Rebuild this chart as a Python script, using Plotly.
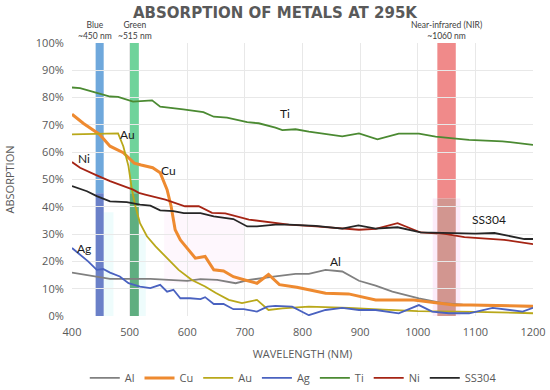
import plotly.graph_objects as go

# ---------------- data ----------------
series_names = ["Al", "Cu", "Au", "Ag", "Ti", "Ni", "SS304"]

al_x = [400, 443, 466, 536, 565, 600, 623, 652, 684, 707, 753, 788, 811, 840, 869, 898, 927, 956, 1002, 1043, 1078, 1113, 1159, 1200]
al_y = [15.9, 14.5, 13.6, 13.6, 13.2, 12.9, 13.5, 13.2, 12.0, 13.2, 14.5, 15.4, 15.4, 16.9, 16.3, 12.9, 11.1, 8.9, 6.5, 4.7, 4.2, 4.0, 3.5, 3.4]

cu_x = [400, 420, 448, 466, 489, 508, 520, 540, 553, 565, 572, 579, 588, 602, 614, 631, 646, 663, 680, 700, 721, 741, 760, 790, 811, 840, 880, 904, 927, 993, 1063, 1092, 1200]
cu_y = [73.9, 70.5, 66.5, 62.2, 59.8, 56.0, 55.3, 54.3, 52.5, 46.3, 40.2, 31.6, 27.9, 24.3, 21.2, 21.8, 16.9, 16.5, 14.4, 13.2, 12.0, 15.2, 11.5, 10.5, 9.6, 8.3, 8.1, 7.1, 5.9, 5.9, 4.0, 4.0, 3.6]

au_x = [400, 440, 480, 489, 498, 504, 510, 518, 530, 545, 562, 585, 608, 631, 649, 672, 695, 721, 741, 765, 811, 880, 940, 1000, 1100, 1200]
au_y = [66.5, 66.7, 66.9, 62.2, 54.9, 46.3, 40.2, 34.0, 29.2, 25.5, 21.8, 16.9, 13.2, 10.8, 8.5, 5.9, 4.7, 5.9, 2.2, 2.8, 3.4, 3.0, 2.3, 1.8, 1.5, 1.0]

ag_x = [400, 414, 428, 443, 454, 466, 483, 498, 518, 536, 553, 565, 576, 588, 605, 623, 631, 646, 663, 680, 698, 721, 739, 753, 782, 811, 840, 869, 898, 927, 967, 1002, 1025, 1054, 1089, 1130, 1182, 1200]
ag_y = [24.9, 22.4, 20.0, 16.9, 17.2, 15.9, 14.5, 12.0, 10.8, 10.2, 11.4, 8.9, 9.6, 6.5, 6.5, 6.2, 6.9, 4.4, 4.4, 2.5, 2.5, 1.6, 3.4, 3.7, 3.4, 0.3, 2.2, 3.0, 2.2, 2.2, 1.0, 4.0, 1.6, 1.0, 1.0, 3.0, 1.6, 3.0]

ti_x = [400, 414, 440, 466, 480, 506, 539, 553, 593, 628, 646, 669, 704, 724, 753, 765, 788, 811, 869, 898, 930, 967, 1002, 1031, 1066, 1089, 1147, 1200]
ti_y = [83.7, 83.5, 81.9, 80.4, 80.3, 78.5, 79.0, 76.7, 75.7, 74.7, 73.0, 72.7, 71.0, 70.6, 69.0, 68.1, 68.4, 67.5, 65.8, 66.9, 64.7, 66.8, 66.8, 65.7, 65.0, 64.5, 64.0, 62.7]

ni_x = [400, 414, 440, 466, 506, 516, 527, 562, 596, 620, 643, 666, 707, 776, 823, 869, 898, 927, 965, 1005, 1050, 1081, 1150, 1200]
ni_y = [56.4, 54.3, 51.8, 49.4, 46.3, 45.1, 44.5, 42.6, 40.2, 40.2, 37.8, 37.6, 35.3, 33.5, 32.8, 31.9, 31.6, 31.9, 34.0, 30.6, 30.0, 28.9, 27.9, 26.3]

ss_x = [400, 426, 443, 466, 495, 518, 536, 553, 576, 594, 623, 646, 680, 704, 721, 753, 776, 823, 869, 897, 927, 965, 1005, 1050, 1100, 1133, 1185, 1200]
ss_y = [47.6, 45.7, 43.9, 42.0, 41.7, 40.8, 40.4, 38.7, 38.4, 37.7, 37.7, 36.5, 35.5, 32.8, 32.8, 33.5, 33.5, 33.0, 32.0, 33.2, 32.0, 32.5, 30.6, 30.3, 30.2, 30.4, 28.2, 28.2]

# highlighted wavelength bands: (label, start nm, end nm)
band_labels = ["Blue<br>~450 nm", "Green<br>~515 nm", "Near-infrared (NIR)<br>~1060 nm"]
band_label_x = [440, 510, 1050]
band_start = [441, 500, 1034]
band_end = [455, 516, 1066]

# in-chart series labels
label_text = ["Ti", "Au", "Cu", "Ni", "Ag", "Al", "SS304"]
label_x = [769, 497, 567, 420, 421, 857, 1124]
label_y = [74.2, 66.5, 53.4, 57.6, 24.9, 20.0, 35.3]

x_ticks = [400, 500, 600, 700, 800, 900, 1000, 1100, 1200]
y_ticks = [0, 10, 20, 30, 40, 50, 60, 70, 80, 90, 100]
y_tick_text = ["0%", "10%", "20%", "30%", "40%", "50%", "60%", "70%", "80%", "90%", "100%"]

# ---------------- styles ----------------
colors = {"Al": "#808080", "Cu": "#ee8a30", "Au": "#b9a81a", "Ag": "#4a62c0",
          "Ti": "#4b8a32", "Ni": "#a52414", "SS304": "#262626"}
widths = {"Al": 1.8, "Cu": 3.0, "Au": 1.8, "Ag": 1.8, "Ti": 1.8, "Ni": 1.8, "SS304": 1.8}
data = {"Al": (al_x, al_y), "Cu": (cu_x, cu_y), "Au": (au_x, au_y), "Ag": (ag_x, ag_y),
        "Ti": (ti_x, ti_y), "Ni": (ni_x, ni_y), "SS304": (ss_x, ss_y)}

fig = go.Figure()

for name in series_names:
    xs, ys = data[name]
    fig.add_trace(go.Scatter(x=xs, y=ys, mode="lines", name=name,
                             line=dict(color=colors[name], width=widths[name])))

# faint highlight artefacts
fig.add_shape(type="rect", x0=455, x1=472, y0=0, y1=38, fillcolor="#eefcfc", line_width=0, layer="below")
fig.add_shape(type="rect", x0=516, x1=528, y0=0, y1=30, fillcolor="#eefcfc", line_width=0, layer="below")
fig.add_shape(type="rect", x0=1026, x1=1074, y0=0, y1=43, fillcolor="#fcecf9", line_width=0, layer="below")
fig.add_shape(type="rect", x0=560, x1=700, y0=12, y1=38, fillcolor="#fef7fd", line_width=0, layer="below")

# bands (upper and lower tones as in the reference)
band_upper = ["#6fa8dc", "#6fd39b", "#f08a8a"]
band_lower = ["#6a80c8", "#5fae80", "#d29690"]
band_split = [45, 45, 43]
for i in range(3):
    fig.add_shape(type="rect", xref="x", yref="y", x0=band_start[i], x1=band_end[i],
                  y0=band_split[i], y1=100, fillcolor=band_upper[i], line_width=0,
                  layer="below")
    fig.add_shape(type="rect", xref="x", yref="y", x0=band_start[i], x1=band_end[i],
                  y0=0, y1=band_split[i], fillcolor=band_lower[i], line_width=0,
                  layer="below")
    fig.add_annotation(x=band_label_x[i], y=1.0, xref="x", yref="paper",
                       yanchor="bottom", text=band_labels[i], showarrow=False,
                       font=dict(family="Lato, Open Sans, sans-serif", size=8.5, color="#404040"),
                       yshift=0)

for t, lx, ly in zip(label_text, label_x, label_y):
    fig.add_annotation(x=lx, y=ly, text=t, showarrow=False,
                       font=dict(family="Lato, Open Sans, sans-serif", size=12, color="#1a1a1a"))

fig.update_layout(
    width=550, height=390,
    margin=dict(l=72, r=17, t=43, b=74, autoexpand=False),
    paper_bgcolor="white", plot_bgcolor="white",
    title=dict(text="<b>ABSORPTION OF METALS AT 295K</b>", x=0.5, xanchor="center",
               y=0.968, yanchor="middle",
               font=dict(family="DejaVu Sans, Verdana, sans-serif", size=15, color="#595959")),
    font=dict(family="Open Sans, sans-serif", size=11, color="#595959"),
    xaxis=dict(range=[400, 1200], tickvals=x_ticks, showgrid=True, gridcolor="#e8e8e8",
               zeroline=False, showline=False, ticks="outside", ticklen=6, tickcolor="white",
               automargin=False,
               title=dict(text="WAVELENGTH (NM)", standoff=12,
                          font=dict(family="Open Sans, sans-serif", size=11, color="#595959"))),
    yaxis=dict(range=[0, 100], tickvals=y_ticks, ticktext=y_tick_text, showgrid=True,
               gridcolor="#e8e8e8", zeroline=False, showline=False,
               ticks="outside", ticklen=5, tickcolor="white", automargin=False,
               title=dict(text="ABSORPTION", standoff=18,
                          font=dict(family="Open Sans, sans-serif", size=11, color="#595959"))),
    legend=dict(orientation="h", x=0.48, xanchor="center", y=-0.227, yanchor="middle",
                font=dict(family="Open Sans, sans-serif", size=11, color="#595959"),
                itemwidth=30, tracegroupgap=0),
    showlegend=True,
)

fig.write_html("out.html", config={"displayModeBar": False},
               post_script="document.body.style.margin='0px';document.body.style.padding='0px';")
